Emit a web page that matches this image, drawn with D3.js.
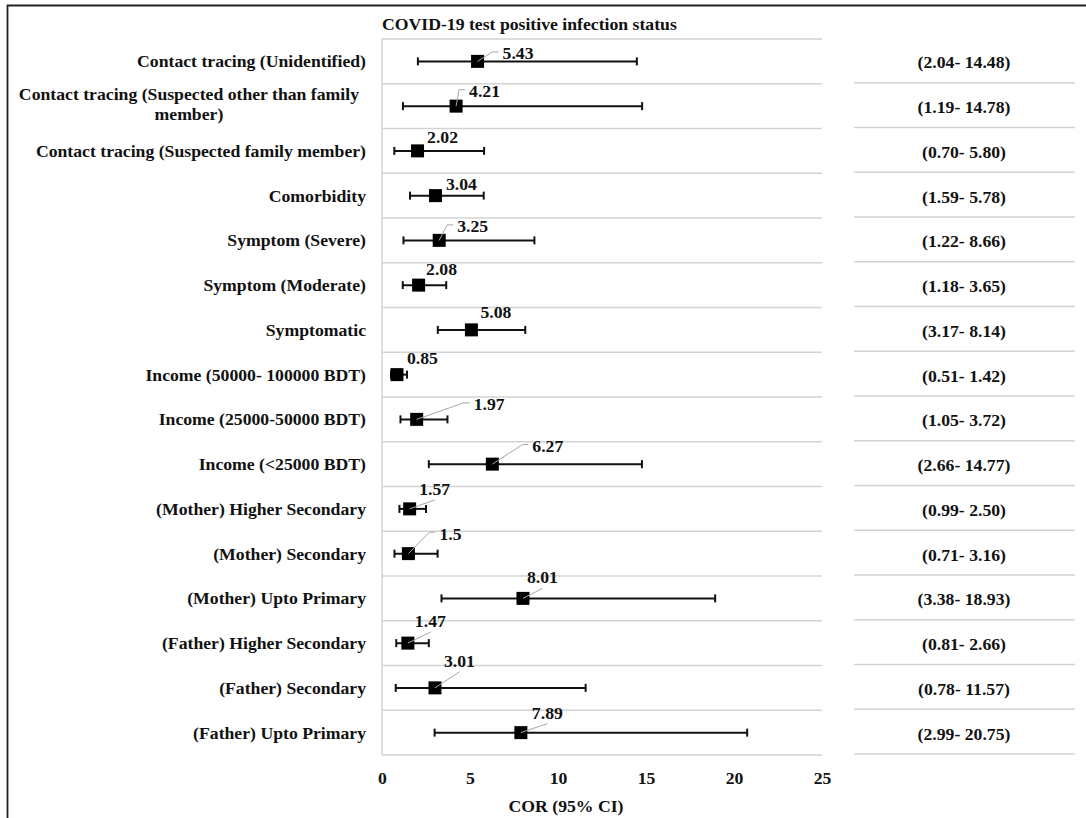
<!DOCTYPE html>
<html>
<head>
<meta charset="utf-8">
<script src="https://cdn.jsdelivr.net/npm/d3@7"></script>
<style>
    body { margin: 0; background: #fff; }
    svg text { font-family: "Liberation Serif", "Times New Roman", serif; font-weight: bold; fill: #111; }
    .grid { stroke: #d3d3d3; stroke-width: 1.5; }
    .bar { stroke: #111; stroke-width: 2; }
    .leader { stroke: #a6a6a6; stroke-width: 1; fill: none; }
</style>
</head>
<body>
<script>
//chart data
var categories = [
    "Contact tracing (Unidentified)",
    "Contact tracing (Suspected other than family member)",
    "Contact tracing (Suspected family member)",
    "Comorbidity",
    "Symptom (Severe)",
    "Symptom (Moderate)",
    "Symptomatic",
    "Income (50000- 100000 BDT)",
    "Income (25000-50000 BDT)",
    "Income (<25000 BDT)",
    "(Mother) Higher Secondary",
    "(Mother) Secondary",
    "(Mother) Upto Primary",
    "(Father) Higher Secondary",
    "(Father) Secondary",
    "(Father) Upto Primary"
];
var corValues = [5.43, 4.21, 2.02, 3.04, 3.25, 2.08, 5.08, 0.85, 1.97, 6.27, 1.57, 1.5, 8.01, 1.47, 3.01, 7.89];
var ciLower = [2.04, 1.19, 0.70, 1.59, 1.22, 1.18, 3.17, 0.51, 1.05, 2.66, 0.99, 0.71, 3.38, 0.81, 0.78, 2.99];
var ciUpper = [14.48, 14.78, 5.80, 5.78, 8.66, 3.65, 8.14, 1.42, 3.72, 14.77, 2.50, 3.16, 18.93, 2.66, 11.57, 20.75];
var xTicks = [0, 5, 10, 15, 20, 25];

//data label nudges (label left / baseline relative to the marker) and leader line type
var labelDx = [25, 13, 9.5, 10.5, 18, 7.5, 9, 10, 57, 40, 9.5, 31, 4, 7, 9, 11];
var labelDy = [-2, -9, -8, -6, -8, -10, -12, -11, -9, -12, -14, -14, -15, -16, -21, -14];
var leaderType = ["L", "L", "", "", "L", "", "", "", "L", "L", "B", "L", "B", "B", "B", "B"];

(function(){

    var width = 1086,
        height = 818,
        fontSize = 17.7,
        plotLeft = 382,
        plotRight = 822,
        plotTop = 39,
        plotBottom = 755,
        tableLeft = 854,
        tableRight = 1075;

    var svg = d3.select("body")
        .append("svg")
        .attr("width", width)
        .attr("height", height);

    //outer frame (only top and left edge visible)
    svg.append("path")
        .attr("d", "M7.5,818 L7.5,5.5 L1086,5.5")
        .attr("fill", "none")
        .attr("stroke", "#222")
        .attr("stroke-width", 1.8);

    var rows = categories.map(function(c, i){
        return { cat: c, cor: corValues[i], lo: ciLower[i], hi: ciUpper[i], i: i };
    });

    var x = d3.scaleLinear()
        .domain([0, 25])
        .range([plotLeft, plotRight]);

    var y = d3.scaleBand()
        .domain(categories)
        .range([plotTop, plotBottom]);

    function cy(d){ return y(d.cat) + y.bandwidth() / 2; }

    //band separators
    var bounds = d3.range(categories.length + 1).map(function(k){ return plotTop + k * y.step(); });
    svg.selectAll(".gridH")
        .data(bounds)
        .enter()
        .append("line")
        .attr("class", "grid")
        .attr("x1", plotLeft).attr("x2", plotRight)
        .attr("y1", function(d){ return d; })
        .attr("y2", function(d){ return d; });
    svg.append("line")
        .attr("class", "grid")
        .attr("x1", plotLeft).attr("x2", plotLeft)
        .attr("y1", plotTop).attr("y2", plotBottom);

    //table separators on the right
    svg.selectAll(".gridT")
        .data(bounds.slice(1))
        .enter()
        .append("line")
        .attr("class", "grid")
        .attr("x1", tableLeft).attr("x2", tableRight)
        .attr("y1", function(d){ return d - 1; })
        .attr("y2", function(d){ return d - 1; });

    //chart title
    svg.append("text")
        .attr("x", plotLeft)
        .attr("y", 30)
        .style("font-size", fontSize + "px")
        .text("COVID-19 test positive infection status");

    //category labels
    rows.forEach(function(d){
        var words = d.cat.split(" ");
        if (d.i === 1){
            //wrapped label, lines centred on each other
            var first = svg.append("text")
                .attr("x", 359)
                .attr("y", cy(d) - 6)
                .attr("text-anchor", "end")
                .style("font-size", fontSize + "px")
                .text(words.slice(0, -1).join(" "));
            var w = first.node().getComputedTextLength();
            svg.append("text")
                .attr("x", 359 - w / 2)
                .attr("y", cy(d) + 13.8)
                .attr("text-anchor", "middle")
                .style("font-size", fontSize + "px")
                .text(words[words.length - 1]);
        } else {
            svg.append("text")
                .attr("x", 366)
                .attr("y", cy(d) + 6)
                .attr("text-anchor", "end")
                .style("font-size", fontSize + "px")
                .text(d.cat);
        }
    });

    //confidence intervals
    svg.selectAll(".ci")
        .data(rows)
        .enter()
        .append("line")
        .attr("class", "bar")
        .attr("x1", function(d){ return x(d.lo); })
        .attr("x2", function(d){ return x(d.hi); })
        .attr("y1", cy).attr("y2", cy);

    ["lo", "hi"].forEach(function(k){
        svg.selectAll(".cap" + k)
            .data(rows)
            .enter()
            .append("line")
            .attr("class", "bar")
            .attr("x1", function(d){ return x(d[k]); })
            .attr("x2", function(d){ return x(d[k]); })
            .attr("y1", function(d){ return cy(d) - 4; })
            .attr("y2", function(d){ return cy(d) + 4; });
    });

    //point estimates
    var ms = 13;
    svg.selectAll(".marker")
        .data(rows)
        .enter()
        .append("rect")
        .attr("x", function(d){ return x(d.cor) - ms / 2; })
        .attr("y", function(d){ return cy(d) - ms / 2; })
        .attr("width", ms)
        .attr("height", ms)
        .attr("fill", "#000");

    //data labels with leader lines
    rows.forEach(function(d){
        var px = x(d.cor), py = cy(d);
        var lx = px + labelDx[d.i], ly = py + labelDy[d.i];
        var lab = svg.append("text")
            .attr("x", lx)
            .attr("y", ly)
            .style("font-size", fontSize + "px")
            .text(String(d.cor));
        var w = lab.node().getComputedTextLength();
        if (leaderType[d.i] === "L"){
            var tx = lx - 4, ty = ly - 7.5;
            svg.append("path")
                .attr("class", "leader")
                .attr("d", "M" + px + "," + py + " L" + (tx - 6) + "," + ty + " L" + tx + "," + ty);
        } else if (leaderType[d.i] === "B"){
            svg.append("path")
                .attr("class", "leader")
                .attr("d", "M" + px + "," + py + " L" + (lx + w / 2) + "," + (ly + 5));
        }
    });

    //CI column on the right
    svg.selectAll(".ciText")
        .data(rows)
        .enter()
        .append("text")
        .attr("x", 964)
        .attr("y", function(d){ return cy(d) + 7; })
        .attr("text-anchor", "middle")
        .style("font-size", fontSize + "px")
        .text(function(d){ return "(" + d.lo.toFixed(2) + "- " + d.hi.toFixed(2) + ")"; });

    //x axis
    var xAxis = d3.axisBottom(x)
        .tickValues(xTicks)
        .tickSize(0)
        .tickPadding(3);

    var axis = svg.append("g")
        .attr("transform", "translate(0," + 768 + ")")
        .call(xAxis);
    axis.select(".domain").remove();
    axis.selectAll("text")
        .attr("font-family", null)
        .style("font-size", fontSize + "px")
        .style("fill", "#111");

    svg.append("text")
        .attr("x", 566)
        .attr("y", 812)
        .attr("text-anchor", "middle")
        .style("font-size", fontSize + "px")
        .text("COR (95% CI)");

})();
</script>
</body>
</html>
